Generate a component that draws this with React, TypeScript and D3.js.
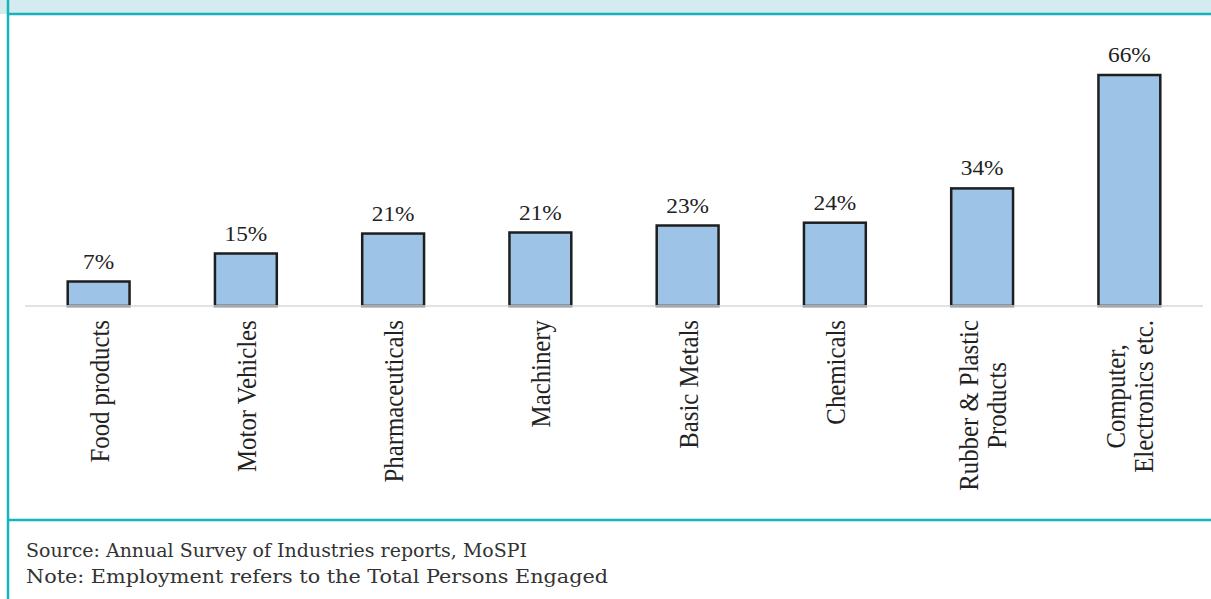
import React from 'react';
import * as d3 from 'd3';

const categories = [
  ['Food products'],
  ['Motor Vehicles'],
  ['Pharmaceuticals'],
  ['Machinery'],
  ['Basic Metals'],
  ['Chemicals'],
  ['Rubber & Plastic', 'Products'],
  ['Computer,', 'Electronics etc.'],
];
const values = [7, 15, 20.7, 21, 23, 23.8, 33.6, 66];
const footnotes = [
  'Source: Annual Survey of Industries reports, MoSPI',
  'Note: Employment refers to the Total Persons Engaged',
];

const width = 1211;
const height = 599;
const teal = '#15b4bd';
const stretch = 1.14; // the picture is a bit wider than tall
const labelFont = 24.8;

const keys = categories.map(c => c.join(' '));
const x = d3.scaleBand().domain(keys).range([25, 1203]).paddingInner(0.58).paddingOuter(0.29);
const y = d3.scaleLinear().domain([0, 70]).range([306, 61]);
const fmt = (v: number) => d3.format('.0f')(v) + '%';

let ctx: CanvasRenderingContext2D | null = null;
const measure = (s: string) => {
  if (!ctx) ctx = document.createElement('canvas').getContext('2d');
  if (!ctx) return s.length * 11;
  ctx.font = `${labelFont}px "Liberation Serif"`;
  return ctx.measureText(s).width;
};

const App = () => {
  const bw = x.bandwidth();
  return (
    <svg width={width} height={height} style={{ position: 'absolute', left: 0, top: 0, background: '#fff' }}>
      {/* title band, cut off at the top */}
      <rect x={0} y={0} width={width} height={14} fill="#d4ecf0" />
      <line x1={8} x2={width} y1={14} y2={14} stroke={teal} strokeWidth={2.5} />
      <line x1={8} x2={width} y1={520} y2={520} stroke={teal} strokeWidth={2.5} />
      <line x1={8} x2={8} y1={0} y2={height} stroke={teal} strokeWidth={2.5} />

      {values.map((v, i) => {
        const cx = x(keys[i])! + bw / 2;
        return (
          <g key={keys[i]}>
            <rect x={x(keys[i])} y={y(v)} width={bw} height={y(0) - y(v)}
              fill="#9dc3e6" stroke="#1e1e1e" strokeWidth={2.5} />
            <g transform={`translate(${cx},${y(v) - 13}) scale(${stretch},1)`}>
              <text textAnchor="middle" fontFamily="Liberation Serif" fontSize={20.5} fill="#222">
                {fmt(v)}
              </text>
            </g>
          </g>
        );
      })}
      <line x1={25} x2={1203} y1={306} y2={306} stroke="#d9d9d9" strokeWidth={1.5} />

      {categories.map((lines, i) => {
        const cx = x(keys[i])! + bw / 2;
        const longest = d3.max(lines, measure) || 0;
        const n = lines.length;
        return (
          <g key={keys[i]}>
            {lines.map((s, j) => (
              <g key={s} transform={`translate(${cx + 10 + (j - (n - 1) / 2) * 28},320) scale(${stretch},1) rotate(-90)`}>
                <text x={-longest / 2} textAnchor="middle" fontFamily="Liberation Serif" fontSize={labelFont} fill="#222">
                  {s}
                </text>
              </g>
            ))}
          </g>
        );
      })}

      {footnotes.map((s, i) => (
        <text key={s} x={26} y={557 + i * 26} fontFamily="DejaVu Serif" fontSize={19} fill="#333"
          textLength={i === 0 ? 501 : 582} lengthAdjust="spacingAndGlyphs">
          {s}
        </text>
      ))}
    </svg>
  );
};

export default App;
